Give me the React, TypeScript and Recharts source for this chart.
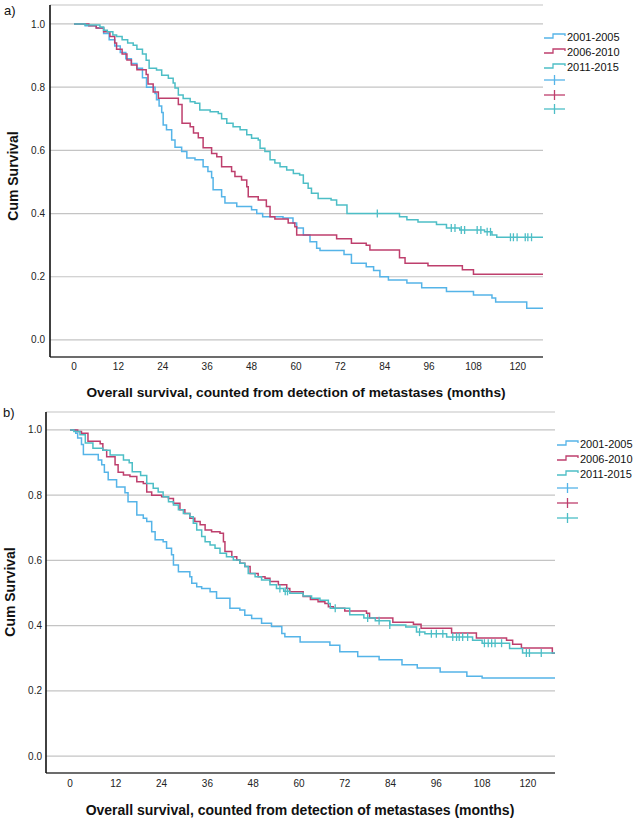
import React from 'react';
import { ComposedChart, Line, Scatter, XAxis, YAxis, CartesianGrid } from 'recharts';

type Pt = [number, number];

// ---------- Data (months, cumulative survival) ----------
const SERIES_NAMES = ['2001-2005', '2006-2010', '2011-2015'];
const COLORS = ['#55b4e8', '#be3f6d', '#4dbec6'];
const X_TICKS = [0, 12, 24, 36, 48, 60, 72, 84, 96, 108, 120];
const Y_TICKS = [0, 0.2, 0.4, 0.6, 0.8, 1.0];

// Panel a)
const A_2001: Pt[] = [
  [0, 1], [3, 0.994], [6, 0.987], [8, 0.97], [9.5, 0.95], [11, 0.93], [12.5, 0.91], [14, 0.89], [15.5, 0.875],
  [17, 0.86], [18.5, 0.83], [19.6, 0.8], [21.9, 0.78], [22.3, 0.76], [23, 0.74], [23.7, 0.72], [24.1, 0.68],
  [25, 0.665], [26.4, 0.633], [27.3, 0.61], [29.1, 0.596], [30.5, 0.576], [32.7, 0.57], [34.9, 0.548],
  [36.2, 0.533], [37.2, 0.513], [37.6, 0.475], [39.9, 0.453], [40.8, 0.433], [44, 0.422], [48, 0.412],
  [49.4, 0.4], [51, 0.39], [56.5, 0.386], [59.2, 0.37], [60.2, 0.354], [62, 0.332], [63.8, 0.311],
  [65.6, 0.29], [66.5, 0.283], [73, 0.27], [75, 0.243], [79, 0.232], [81, 0.22], [82.7, 0.2], [85, 0.19],
  [90, 0.18], [94, 0.165], [100.7, 0.153], [108, 0.142], [113, 0.133], [114, 0.12], [122.4, 0.1], [126.8, 0.1],
];
const A_2006: Pt[] = [
  [0, 1], [4, 0.994], [6, 0.987], [8, 0.975], [9.7, 0.96], [11, 0.94], [11.5, 0.92], [13, 0.905], [14.3, 0.886],
  [15.5, 0.87], [17, 0.855], [19.5, 0.84], [20, 0.81], [21.4, 0.785], [22.8, 0.765], [28.2, 0.745], [29.2, 0.686],
  [31.4, 0.675], [32.3, 0.655], [33.6, 0.64], [34.9, 0.608], [37.2, 0.59], [38.6, 0.58], [39.9, 0.548],
  [42.6, 0.533], [43.5, 0.517], [45.3, 0.506], [46.7, 0.485], [47.1, 0.453], [49.8, 0.443], [52, 0.422],
  [53, 0.39], [54.3, 0.383], [57.9, 0.37], [59.7, 0.358], [60.2, 0.332], [71, 0.32], [75, 0.306], [79, 0.3],
  [80, 0.285], [88, 0.26], [89.5, 0.243], [95.7, 0.235], [105, 0.222], [108, 0.208], [126.8, 0.208],
];
const A_2011: Pt[] = [
  [0, 1], [3, 0.997], [7, 0.99], [8, 0.98], [9, 0.975], [10.5, 0.965], [11.5, 0.96], [13, 0.95], [14.5, 0.94],
  [16, 0.933], [17, 0.92], [18.5, 0.905], [19.5, 0.885], [20.3, 0.86], [22.3, 0.854], [23.7, 0.838],
  [25.5, 0.828], [26.8, 0.813], [27.3, 0.797], [28.2, 0.775], [29.5, 0.764], [31.4, 0.754], [32.7, 0.749],
  [34, 0.728], [36.8, 0.722], [39, 0.717], [39.9, 0.7], [41.3, 0.686], [43, 0.675], [44.9, 0.665],
  [46.7, 0.649], [48, 0.638], [49.8, 0.633], [50.3, 0.607], [51.6, 0.596], [53, 0.57], [54.3, 0.56],
  [55.7, 0.548], [57.5, 0.538], [59.3, 0.527], [61, 0.522], [62, 0.496], [63.3, 0.48], [64.2, 0.464],
  [66, 0.448], [69.5, 0.443], [71, 0.427], [73.8, 0.4], [88, 0.39], [90, 0.38], [93, 0.373], [98, 0.365],
  [100.7, 0.354], [104.3, 0.348], [111, 0.342], [113, 0.332], [114.3, 0.325], [126.8, 0.325],
];
const A_2011_CENSORED = [82, 102, 103, 104.7, 105.6, 109, 110, 111.7, 112.6, 118, 118.8, 119.8, 122, 122.7, 123.7];

// Panel b)
const B_2001: Pt[] = [
  [0, 1], [1.5, 0.99], [2, 0.975], [3, 0.955], [3.5, 0.925], [7.4, 0.908], [8.3, 0.893], [9, 0.87], [10, 0.847],
  [12.2, 0.825], [14.4, 0.807], [15.2, 0.78], [17.5, 0.739], [19.2, 0.729], [20.1, 0.719], [21.4, 0.688],
  [22.3, 0.663], [24.4, 0.657], [25.3, 0.637], [26.6, 0.617], [27.1, 0.586], [28.4, 0.565], [31.4, 0.55],
  [31.9, 0.53], [33.2, 0.519], [34.5, 0.514], [36.7, 0.504], [38.4, 0.484], [41.9, 0.453], [44.5, 0.448],
  [45.8, 0.432], [47.6, 0.422], [50.2, 0.407], [52.8, 0.397], [55.5, 0.376], [56.3, 0.366], [60.3, 0.35],
  [68.1, 0.34], [70.7, 0.32], [75.4, 0.305], [81, 0.295], [87, 0.28], [91, 0.27], [97, 0.258], [104, 0.245],
  [108, 0.239], [127.1, 0.239],
];
const B_2006: Pt[] = [
  [0, 1], [2, 0.995], [3, 0.99], [4.7, 0.965], [7.9, 0.958], [8.6, 0.938], [9.6, 0.918], [11.8, 0.893],
  [12.6, 0.87], [14, 0.862], [15.7, 0.857], [17.5, 0.841], [19.2, 0.836], [20.1, 0.81], [21.4, 0.8], [24, 0.795],
  [25.8, 0.79], [27.1, 0.775], [28.8, 0.755], [30.1, 0.744], [31.4, 0.729], [32.7, 0.719], [34.1, 0.709],
  [35.4, 0.693], [37.1, 0.688], [39.3, 0.683], [40.2, 0.657], [40.6, 0.627], [42.4, 0.611], [43.7, 0.601],
  [44.5, 0.591], [45.8, 0.581], [47.2, 0.56], [49.3, 0.55], [51.1, 0.545], [52.4, 0.535], [54.6, 0.525],
  [56.8, 0.514], [57.6, 0.504], [61.1, 0.489], [63, 0.48], [65, 0.473], [66.8, 0.468], [67.7, 0.458],
  [69, 0.453], [72, 0.445], [77.7, 0.438], [78.5, 0.423], [84.6, 0.41], [90, 0.404], [92, 0.392], [100, 0.377],
  [106.5, 0.362], [114.4, 0.355], [116, 0.343], [118.3, 0.331], [126.4, 0.315], [127.1, 0.315],
];
const B_2011: Pt[] = [
  [0, 1], [1, 0.995], [2.6, 0.985], [4, 0.96], [6, 0.944], [8.6, 0.938], [10.5, 0.923], [14, 0.908],
  [15.5, 0.899], [16.3, 0.872], [18.5, 0.86], [20.1, 0.836], [21.8, 0.821], [23.1, 0.81], [24.4, 0.795],
  [25.8, 0.78], [27.1, 0.77], [28.4, 0.755], [29.7, 0.744], [31.4, 0.734], [32.3, 0.714], [33.2, 0.693],
  [34.5, 0.673], [35.4, 0.657], [36.7, 0.647], [38, 0.637], [39.3, 0.622], [41, 0.611], [42.8, 0.601],
  [44.5, 0.591], [45.8, 0.581], [46.7, 0.56], [48.5, 0.55], [50.2, 0.54], [52.4, 0.525], [54.1, 0.514],
  [56, 0.505], [57.6, 0.499], [61.1, 0.491], [63.3, 0.484], [65.5, 0.478], [67.7, 0.468], [68.2, 0.453],
  [73.3, 0.433], [77, 0.423], [80, 0.415], [83.8, 0.402], [88, 0.396], [90.8, 0.38], [93, 0.375],
  [98.7, 0.365], [105.5, 0.355], [108, 0.346], [115.2, 0.33], [118.6, 0.316], [127.1, 0.316],
];
const B_2011_CENSORED = [
  55, 56.4, 57, 69.5, 78, 81, 83.8, 91.6, 94.7, 96, 97.7, 100.3, 101.3, 102, 102.9, 104.2, 108.6, 109.6,
  110.5, 111.4, 113.1, 119.6, 120.4, 123.5,
];

// ---------- helpers ----------
const FONT = '"Liberation Sans", Arial, Helvetica, sans-serif';
const toRows = (pts: Pt[]) => pts.map(([m, s]) => ({ m, s }));
const stepAt = (pts: Pt[], m: number) => {
  let v = pts[0][1];
  for (const [x, s] of pts) {
    if (x <= m) v = s;
    else break;
  }
  return v;
};
const censorRows = (pts: Pt[], months: number[]) => months.map((m) => ({ m, s: stepAt(pts, m) }));

const makeCross = (color: string) => (props: any) => {
  const { cx, cy } = props;
  if (cx == null || cy == null) return <g />;
  return <line x1={cx} x2={cx} y1={cy - 4} y2={cy + 4} stroke={color} strokeWidth={1.3} />;
};

interface KMProps {
  height: number;
  margin: { top: number; right: number; left: number; bottom: number };
  xDomain: [number, number];
  yDomain: [number, number];
  series: Pt[][];
  censored: { idx: number; months: number[] }[];
  yTickSize: number;
  xTickSize: number;
}

function KM({ height, margin, xDomain, yDomain, series, censored, yTickSize, xTickSize }: KMProps) {
  return (
    <ComposedChart width={635} height={height} margin={margin}>
      <CartesianGrid vertical={false} stroke="#c4c4c4" strokeWidth={1.2} />
      <XAxis
        type="number"
        dataKey="m"
        domain={xDomain}
        ticks={X_TICKS}
        interval={0}
        allowDataOverflow
        height={30}
        tickLine={false}
        tickSize={xTickSize}
        tickMargin={2}
        axisLine={{ stroke: '#444', strokeWidth: 1.6 }}
        tick={{ fontSize: 10, fill: '#222', fontFamily: FONT }}
      />
      <YAxis
        type="number"
        domain={yDomain}
        ticks={Y_TICKS}
        interval={0}
        allowDataOverflow
        width={40}
        tickLine={false}
        tickSize={yTickSize}
        tickMargin={2}
        tickFormatter={(v: number) => v.toFixed(1)}
        axisLine={{ stroke: '#111', strokeWidth: 1.6 }}
        tick={{ fontSize: 10, fill: '#222', fontFamily: FONT }}
      />
      {series.map((pts, i) => (
        <Line
          key={SERIES_NAMES[i]}
          data={toRows(pts)}
          dataKey="s"
          type="stepAfter"
          stroke={COLORS[i]}
          strokeWidth={1.5}
          dot={false}
          activeDot={false}
          isAnimationActive={false}
        />
      ))}
      {censored.map((c) => (
        <Scatter
          key={'c' + c.idx}
          data={censorRows(series[c.idx], c.months)}
          dataKey="s"
          fill={COLORS[c.idx]}
          shape={makeCross(COLORS[c.idx])}
          isAnimationActive={false}
        />
      ))}
    </ComposedChart>
  );
}

function LegendBlock({ x, rows, crosses }: { x: number; rows: number[]; crosses: number[] }) {
  return (
    <g>
      {rows.map((c, i) => (
        <g key={'l' + i}>
          <path
            d={`M ${x} ${c + 1} H ${x + 9} V ${c - 3} H ${x + 21} V ${c - 1}`}
            fill="none"
            stroke={COLORS[i]}
            strokeWidth={1.3}
          />
          <text x={x + 23} y={c + 4} fontSize={11} fontFamily={FONT} fill="#111">
            {SERIES_NAMES[i]}
          </text>
        </g>
      ))}
      {crosses.map((c, i) => (
        <g key={'x' + i}>
          <line x1={x} x2={x + 21} y1={c} y2={c} stroke={COLORS[i]} strokeWidth={1.3} />
          <line x1={x + 10.5} x2={x + 10.5} y1={c - 5} y2={c + 5} stroke={COLORS[i]} strokeWidth={1.3} />
        </g>
      ))}
    </g>
  );
}

const X_TITLE = 'Overall survival, counted from detection of metastases (months)';

export default function App() {
  return (
    <div style={{ position: 'absolute', left: 0, top: 0, width: 635, height: 819, background: '#fff', overflow: 'hidden' }}>
      <div style={{ position: 'absolute', left: 0, top: 0 }}>
        <KM
          height={400}
          margin={{ top: 5, right: 92, left: 10, bottom: 13 }}
          xDomain={[-6.5, 126.8]}
          yDomain={[-0.054, 1.06]}
          series={[A_2001, A_2006, A_2011]}
          censored={[{ idx: 2, months: A_2011_CENSORED }]}
          yTickSize={3}
          xTickSize={4}
        />
      </div>
      <div style={{ position: 'absolute', left: 0, top: 400 }}>
        <KM
          height={419}
          margin={{ top: 12, right: 80, left: 6, bottom: 16 }}
          xDomain={[-6.3, 127.1]}
          yDomain={[-0.052, 1.055]}
          series={[B_2001, B_2006, B_2011]}
          censored={[{ idx: 2, months: B_2011_CENSORED }]}
          yTickSize={2}
          xTickSize={5}
        />
      </div>
      <svg
        width={635}
        height={819}
        style={{ position: 'absolute', left: 0, top: 0, pointerEvents: 'none' }}
      >
        <text x={4} y={15} fontSize={13} fontFamily={FONT} fill="#111">a)</text>
        <text x={3} y={417} fontSize={13} fontFamily={FONT} fill="#111">b)</text>
        <text
          transform="translate(18,176) rotate(-90)"
          textAnchor="middle"
          fontSize={14}
          fontWeight="bold"
          fontFamily={FONT}
          fill="#111"
        >
          Cum Survival
        </text>
        <text
          transform="translate(14.5,592) rotate(-90)"
          textAnchor="middle"
          fontSize={14}
          fontWeight="bold"
          fontFamily={FONT}
          fill="#111"
        >
          Cum Survival
        </text>
        <text x={296} y={397} textAnchor="middle" fontSize={13.7} fontWeight="bold" fontFamily={FONT} fill="#111">
          {X_TITLE}
        </text>
        <text x={300} y={815} textAnchor="middle" fontSize={14} fontWeight="bold" fontFamily={FONT} fill="#111">
          {X_TITLE}
        </text>
        <LegendBlock x={544} rows={[37, 52, 67]} crosses={[80, 95, 109]} />
        <LegendBlock x={557} rows={[444, 459, 474]} crosses={[488, 503, 518]} />
      </svg>
    </div>
  );
}
